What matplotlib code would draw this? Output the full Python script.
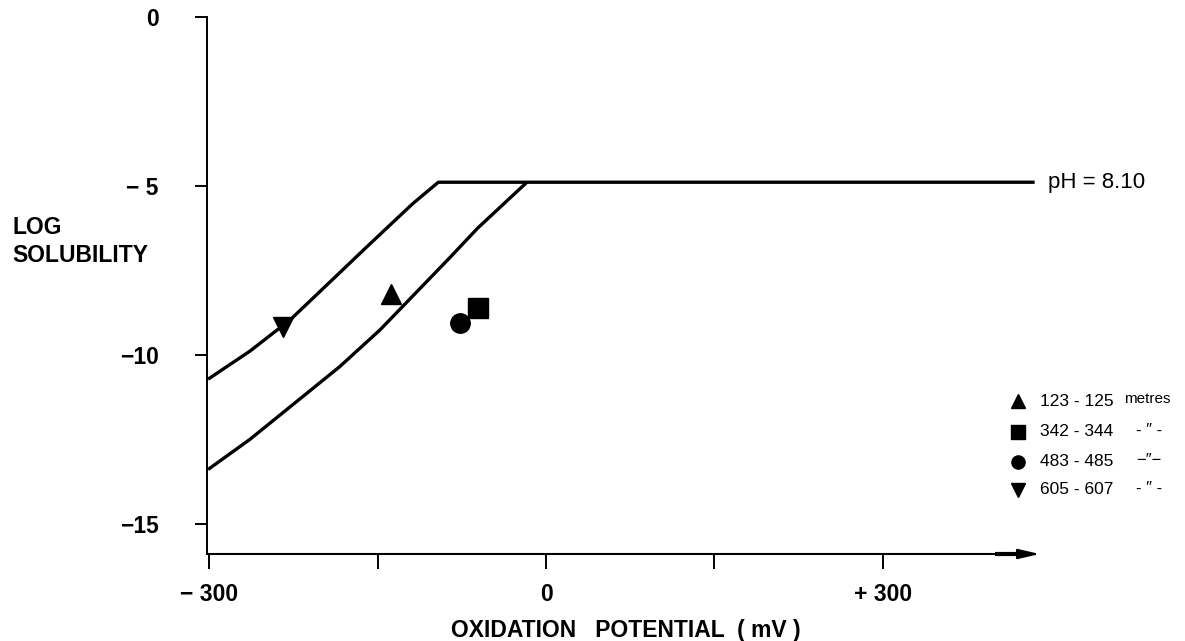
import matplotlib
matplotlib.use('Agg')
import matplotlib.pyplot as plt

# ---- data ----
upper_x = [-300, -264, -228, -190, -160, -119, -96, 434]
upper_y = [-10.68, -9.88, -8.95, -7.75, -6.80, -5.52, -4.88, -4.88]
lower_x = [-300, -264, -184, -148, -86, -61, -18]
lower_y = [-13.35, -12.49, -10.34, -9.25, -7.12, -6.24, -4.91]

sample_labels = ["123 - 125", "342 - 344", "483 - 485", "605 - 607"]
sample_suffix = ["metres", "- \u2033 -", "\u2212\u2033\u2212", "- \u2033 -"]
sample_markers = ["^", "s", "o", "v"]
sample_x = [-138, -61, -77, -234]
sample_y = [-8.19, -8.60, -9.04, -9.16]

x_major = [-300, 0, 300]
x_major_labels = ["\u2212 300", "0", "+ 300"]
x_minor = [-150, 150]
y_ticks = [0, -5, -10, -15]
y_tick_labels = ["0", "\u2212 5", "\u221210", "\u221215"]

W, H = 1185, 641
fig = plt.figure(figsize=(W / 100, H / 100), dpi=100)

# axes placement in pixels
xlo, xhi = -302, 440
ylo, yhi = -15.88, 0
px_l, px_r = 207.2, 1039.7
py_t, py_b = 17.3, 554
ax = fig.add_axes([px_l / W, 1 - py_b / H, (px_r - px_l) / W, (py_b - py_t) / H])
ax.set_xlim(xlo, xhi)
ax.set_ylim(ylo, yhi)

main_font = ['Liberation Sans', 'DejaVu Sans']
narrow_font = ['Liberation Sans', 'DejaVu Sans']

for s in ['top', 'right', 'bottom']:
    ax.spines[s].set_visible(False)
ax.spines['left'].set_linewidth(1.4)

# x-axis with arrow
ax.annotate('', xy=(xhi, ylo), xytext=(xlo, ylo), xycoords='data',
            arrowprops=dict(arrowstyle='-|>,head_length=1.3,head_width=0.3',
                            lw=1.5, color='black', shrinkA=0, shrinkB=0),
            annotation_clip=False)
ax.plot([400, 425], [ylo, ylo], color='black', lw=3.0, clip_on=False,
        solid_capstyle='butt')

ax.set_xticks(x_major)
ax.set_xticklabels(x_major_labels, fontfamily=main_font, fontweight='bold', fontsize=16.5)
ax.set_xticks(x_minor, minor=True)
ax.tick_params(axis='x', which='both', direction='out', length=11, width=1.4, pad=10)
ax.set_yticks(y_ticks)
ax.set_yticklabels(y_tick_labels, fontfamily=main_font, fontweight='bold', fontsize=16.5)
ax.tick_params(axis='y', direction='out', length=9, width=1.4, pad=26)

# curves
ax.plot(upper_x, upper_y, color='black', lw=2.4, solid_joinstyle='round', clip_on=False)
ax.plot(lower_x, lower_y, color='black', lw=2.4, solid_joinstyle='round', clip_on=False)

# samples
for mx, my, mk in zip(sample_x, sample_y, sample_markers):
    ax.plot([mx], [my], marker=mk, color='black', markersize=14, linestyle='none')

# pH label
ax.text(447, -4.88, "pH = 8.10", fontfamily=narrow_font, fontsize=16,
        va='center', ha='left', clip_on=False)

# legend
def fx(px):
    return (px - px_l) / (px_r - px_l)

leg_y_px = [401, 432, 462, 490]
suffix_px = [1124, 1136, 1136, 1136]
for lab, suf, mk, ypx, sp in zip(sample_labels, sample_suffix, sample_markers, leg_y_px, suffix_px):
    fy = (py_b - ypx) / (py_b - py_t)
    ax.plot([fx(1018)], [fy], marker=mk, color='black', markersize=9.5,
            transform=ax.transAxes, clip_on=False, linestyle='none')
    ax.text(fx(1040), fy, lab, transform=ax.transAxes, fontfamily=narrow_font,
            fontsize=12.5, va='center', ha='left')
    ax.text(fx(sp), fy + 0.003, suf,
            transform=ax.transAxes, fontfamily=narrow_font,
            fontsize=11 if suf == "metres" else 12, va='center', ha='left')

# axis titles
fig.text(626 / W, 1 - 631 / H, "OXIDATION   POTENTIAL  ( mV )", ha='center', va='center',
         fontfamily=main_font, fontweight='bold', fontsize=16.5)
fig.text(12 / W, 1 - 228 / H, "LOG", ha='left', va='center',
         fontfamily=main_font, fontweight='bold', fontsize=16.5)
fig.text(12 / W, 1 - 256 / H, "SOLUBILITY", ha='left', va='center',
         fontfamily=main_font, fontweight='bold', fontsize=16.5)

fig.savefig('out.png', dpi=100)
